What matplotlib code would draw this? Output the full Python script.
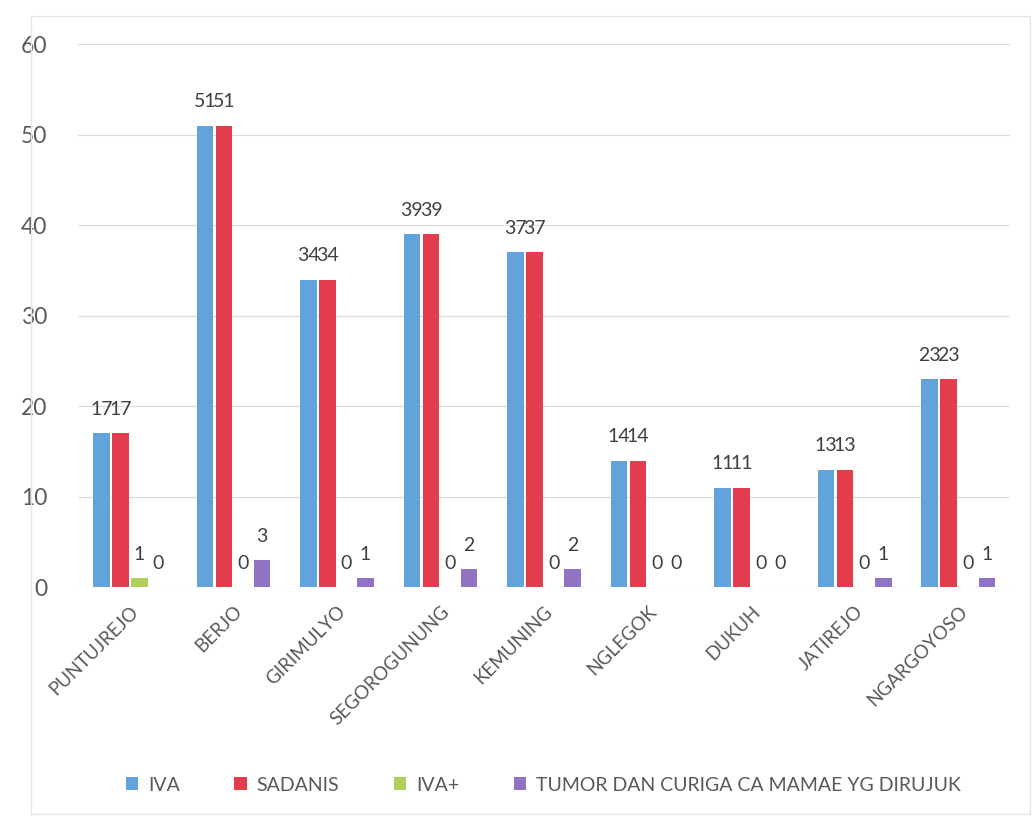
import numpy as np
import matplotlib
matplotlib.use("Agg")
import matplotlib.pyplot as plt
from matplotlib.patches import Rectangle

# data
categories = ["PUNTUJREJO", "BERJO", "GIRIMULYO", "SEGOROGUNUNG", "KEMUNING",
              "NGLEGOK", "DUKUH", "JATIREJO", "NGARGOYOSO"]
iva = [17, 51, 34, 39, 37, 14, 11, 13, 23]
sadanis = [17, 51, 34, 39, 37, 14, 11, 13, 23]
iva_plus = [1, 0, 0, 0, 0, 0, 0, 0, 0]
tumor = [0, 3, 1, 2, 2, 0, 0, 1, 1]
series_names = ["IVA", "SADANIS", "IVA+", "TUMOR DAN CURIGA CA MAMAE YG DIRUJUK"]
colors = ["#62a3dc", "#e23c4d", "#afd05a", "#9272c2"]

TXT = "#595959"
plt.rcParams["font.family"] = ["Lato", "DejaVu Sans"]

fig = plt.figure(figsize=(10.35, 8.18), dpi=100)
ax = fig.add_axes([0.0754, 0.282, 0.9005, 0.664])

x = np.arange(len(categories))
step = 0.184
width = 0.16
for i, (vals, name, c) in enumerate(zip([iva, sadanis, iva_plus, tumor], series_names, colors)):
    bars = ax.bar(x + (i - 1.5) * step, vals, width, color=c, label=name, zorder=3)
    ax.bar_label(bars, padding=11, fontsize=14, color="#404040")

ax.set_ylim(0, 60)
ax.set_xlim(-0.5, len(categories) - 0.5)
ax.set_yticks(range(0, 61, 10))
ax.yaxis.grid(True, color="#dcdcdc", linewidth=0.9, zorder=0)
for s in ax.spines.values():
    s.set_visible(False)
ax.tick_params(axis="both", length=0, colors=TXT)
ax.tick_params(axis="y", pad=22, labelsize=16.5)
ax.set_xticks(x)
ax.set_xticklabels(categories, rotation=45, ha="right", rotation_mode="anchor", fontsize=13.5)
ax.tick_params(axis="x", pad=11)

fig.legend(*ax.get_legend_handles_labels(), loc="center", bbox_to_anchor=(0.525, 0.04),
           ncol=4, frameon=False, fontsize=14, handlelength=0.65, handleheight=0.65,
           columnspacing=2.8, handletextpad=0.5, labelcolor=TXT)

fig.patches.append(Rectangle((0.03, 0.005), 0.965, 0.975, transform=fig.transFigure,
                             fill=False, edgecolor="#e6e6e6", linewidth=1))

fig.savefig("out.png", dpi=100)
